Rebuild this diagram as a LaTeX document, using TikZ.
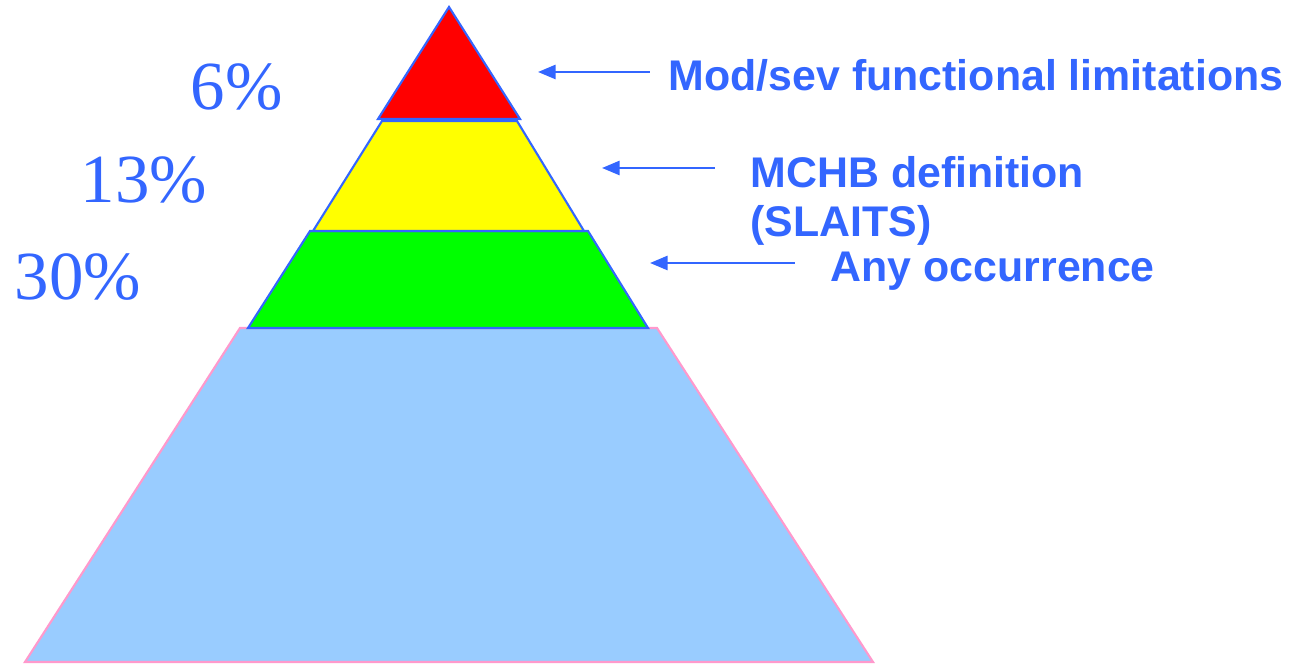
\documentclass[tikz,border=0pt]{standalone}
\usepackage{fontspec}
\setmainfont{Liberation Serif}
\newfontfamily\labelsf{Liberation Sans}
\usetikzlibrary{arrows.meta}
\definecolor{txtblue}{HTML}{3366FF}
\definecolor{lowblue}{HTML}{99CCFF}
\definecolor{lowpink}{HTML}{FF99CC}
\definecolor{topyellow}{HTML}{FFFF00}
\definecolor{midgreen}{HTML}{00FF00}
\definecolor{topred}{HTML}{FF0000}

\begin{document}
\begin{tikzpicture}[>={Triangle[length=5pt,width=4pt]}]
    \useasboundingbox (0,0) rectangle (12.97,6.64);
    \draw [lowpink, fill=lowblue, line width=0.6pt] (2.40,3.36) -- (6.57,3.36) -- (8.73,0.02) -- (0.25,0.02) -- cycle;
    \draw [txtblue, fill=midgreen, line width=0.6pt] (3.10,4.33) -- (5.88,4.33) -- (6.48,3.36) -- (2.48,3.36) -- cycle;
    \draw [txtblue, fill=topyellow, line width=0.6pt] (3.82,5.43) -- (5.17,5.43) -- (5.84,4.33) -- (3.13,4.33) -- cycle;
    \draw [txtblue, fill=topred, line width=0.6pt] (4.49,6.57) -- (5.20,5.45) -- (3.78,5.45) -- cycle;
    \coordinate (tip_mod) at (5.38,5.92);
    \coordinate (tail_mod) at (6.50,5.92);
    \coordinate (tip_mchb) at (6.02,4.96);
    \coordinate (tail_mchb) at (7.15,4.96);
    \coordinate (tip_any) at (6.50,4.01);
    \coordinate (tail_any) at (7.95,4.01);
    \draw [<-, txtblue, line width=0.7pt] (tip_mod) to (tail_mod);
    \draw [<-, txtblue, line width=0.7pt] (tip_mchb) to (tail_mchb);
    \draw [<-, txtblue, line width=0.7pt] (tip_any) to (tail_any);
    \node (pct_six) [font=\fontsize{19.6}{22}\selectfont, text=txtblue, anchor=base west, inner sep=0] at (1.90,5.54) {6\%};
    \node (pct_thirteen) [font=\fontsize{19.6}{22}\selectfont, text=txtblue, anchor=base west, inner sep=0] at (0.80,4.61) {13\%};
    \node (pct_thirty) [font=\fontsize{19.6}{22}\selectfont, text=txtblue, anchor=base west, inner sep=0] at (0.14,3.64) {30\%};
    \node (mod) [font=\labelsf\bfseries\fontsize{12.2}{14}\selectfont, text=txtblue, anchor=base west, inner sep=0] at (6.68,5.73) {Mod/sev functional limitations};
    \node (mchb) [font=\labelsf\bfseries\fontsize{12.2}{14}\selectfont, text=txtblue, anchor=base west, inner sep=0] at (7.50,4.76) {MCHB definition};
    \node (slaits) [font=\labelsf\bfseries\fontsize{12.2}{14}\selectfont, text=txtblue, anchor=base west, inner sep=0] at (7.50,4.27) {(SLAITS)};
    \node (any) [font=\labelsf\bfseries\fontsize{12.2}{14}\selectfont, text=txtblue, anchor=base west, inner sep=0] at (8.30,3.82) {Any occurrence};
\end{tikzpicture}
\end{document}
